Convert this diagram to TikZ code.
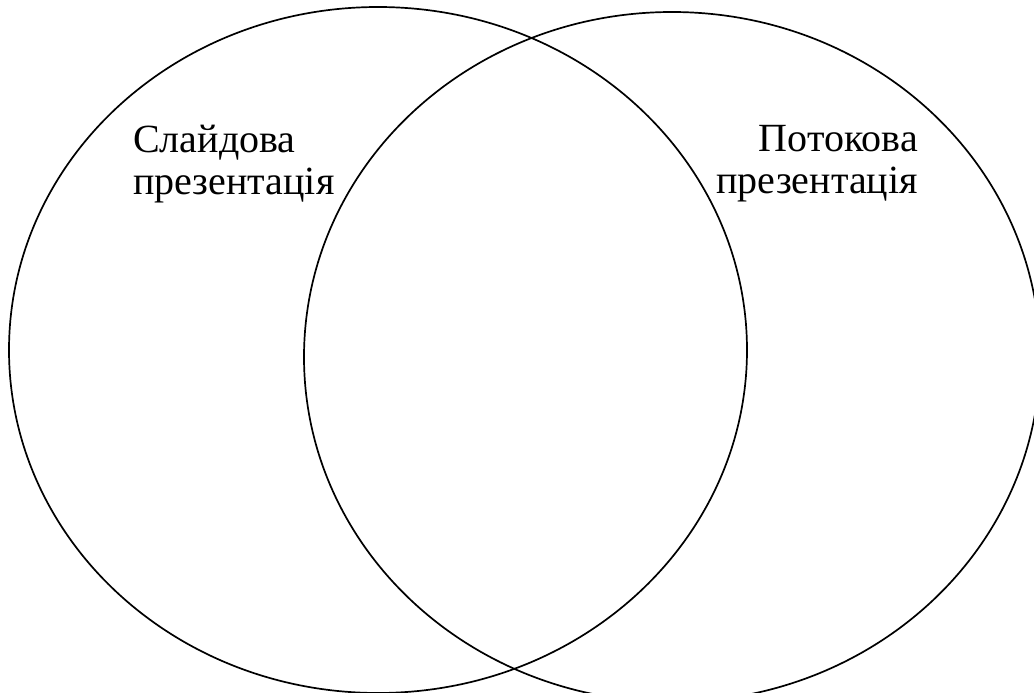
\documentclass[tikz,border=0pt]{standalone}
\usepackage{fontspec}
\setmainfont{Liberation Serif}
\begin{document}
\begin{tikzpicture}[x=1pt,y=-1pt,
  venn/.style={draw=black,line width=1.7pt},
  lbl/.style={inner sep=0pt,font=\fontsize{40}{42}\selectfont}]
\useasboundingbox (0,0) rectangle (1034,693);
\clip (0,0) rectangle (1034,693);
\fill[white] (0,0) rectangle (1034,693);
\draw[venn] (378,350) ellipse [x radius=369pt, y radius=343pt];
\draw[venn] (672,357) ellipse [x radius=368pt, y radius=345pt];
\node[lbl,align=left,anchor=north west] (slide) at (133,125) {Слайдова\\презентація};
\node[lbl,align=right,anchor=north east] (flow) at (918,125) {Потокова\\презентація};
\end{tikzpicture}
\end{document}
